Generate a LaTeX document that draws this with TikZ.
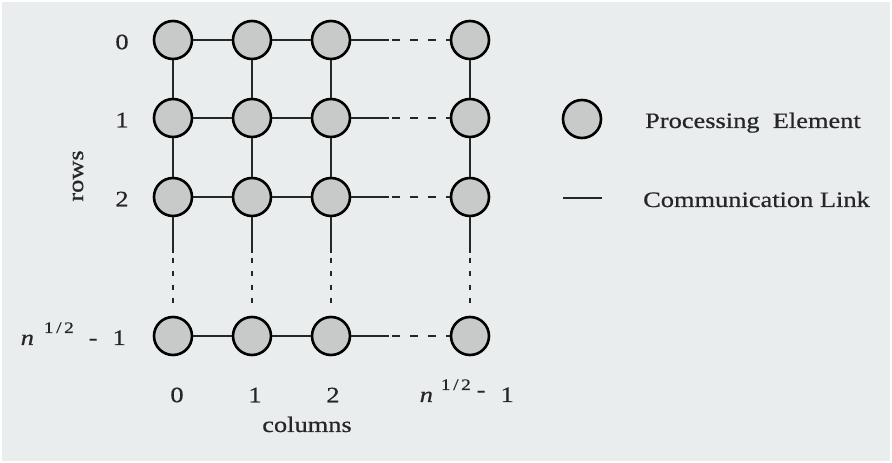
\documentclass[tikz,border=0pt]{standalone}
\usepackage{fontspec}
\setmainfont{Liberation Serif}[FakeStretch=1.2,FakeBold=0.6]
\usetikzlibrary{calc}
\definecolor{bg}{HTML}{E9EDEE}
\definecolor{pe}{HTML}{C8C9C9}
\newcommand{\supfrac}{\raisebox{12pt}{\fontsize{16}{16}\selectfont 1\,/\,2}}
\begin{document}
\begin{tikzpicture}[x=1pt,y=1pt,
  penode/.style={circle,draw=black,line width=2.6pt,fill=pe,minimum size=38pt,inner sep=0pt},
  link/.style={line width=2.4pt,draw=black!85},
  dlinkh/.style={link,dash pattern=on 8pt off 10pt,dash phase=15pt},
  dlinkv/.style={link,dash pattern=on 5pt off 8.5pt,dash phase=8.5pt},
  lbl/.style={font=\fontsize{22}{24}\selectfont,inner sep=0pt,text=black!85}]
\fill[white] (0,0) rectangle (892,463);
\fill[bg] (2,2) rectangle (890,461);
\useasboundingbox (0,0) rectangle (892,463);
% grid of processing elements
\foreach \c/\x in {0/173,1/252,2/331,3/470}
  \foreach \r/\y in {0/423,1/345,2/266,3/127}
    \node[penode] (n\r\c) at (\x,\y) {};
% horizontal links
\foreach \r in {0,1,2,3}{
  \draw[link] (n\r0) -- (n\r1);
  \draw[link] (n\r1) -- (n\r2);
  \draw[link] (n\r2) -- ($(n\r2)!0.42!(n\r3)$) coordinate (h\r);
  \draw[dlinkh] (h\r) -- (n\r3);
}
% vertical links
\foreach \c in {0,1,2,3}{
  \draw[link] (n0\c) -- (n1\c);
  \draw[link] (n1\c) -- (n2\c);
  \draw[link] (n2\c) -- ($(n2\c)!0.40!(n3\c)$) coordinate (va\c);
  \coordinate (vb\c) at ($(n2\c)!0.77!(n3\c)$);
  \draw[dlinkv] (va\c) -- (vb\c);
}
% row labels
\node[lbl] (r0) at (122,421) {0};
\node[lbl] (r1) at (122,343) {1};
\node[lbl] (r2) at (122,264) {2};
\node[lbl,anchor=base east] (r3) at (126,118) {{\itshape n}\hspace{10pt}\supfrac\hspace{15pt}-\hspace{15pt}1};
\node[lbl,rotate=90] (rows) at (78,287) {rows};
% column labels
\node[lbl] (c0) at (177,68) {0};
\node[lbl] (c1) at (255,68) {1};
\node[lbl] (c2) at (333,68) {2};
\node[lbl,anchor=base east] (c3) at (514,61) {{\itshape n}\hspace{8pt}\supfrac\hspace{6pt}\raisebox{5pt}{-}\hspace{15pt}1};
\node[lbl,anchor=base] (cols) at (307,31) {columns};
% legend
\node[penode] (lpe) at (582,344) {};
\coordinate (la) at (563,265);
\coordinate (lb) at (602,265);
\draw[link] (la) -- (lb);
\node[lbl,anchor=base west] (tpe) at (645,335) {Processing\ \ Element};
\node[lbl,anchor=base west] (tcl) at (643,256) {Communication Link};
\end{tikzpicture}
\end{document}
